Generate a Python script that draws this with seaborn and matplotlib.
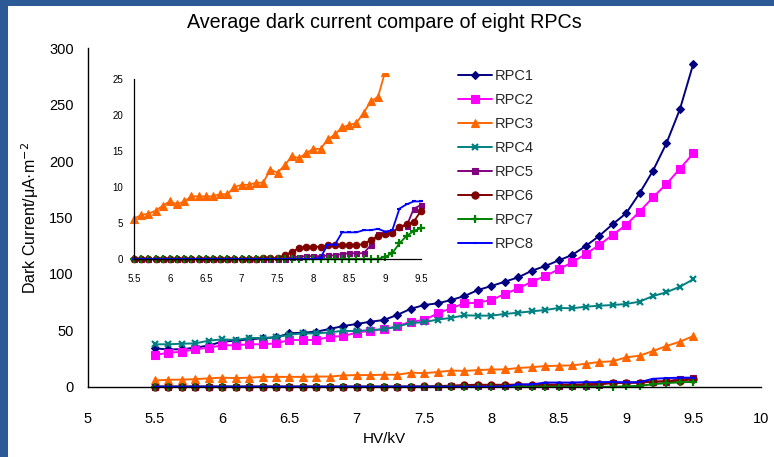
import matplotlib
matplotlib.use('Agg')
import matplotlib.pyplot as plt
import seaborn as sns
import pandas as pd
from matplotlib.patches import Rectangle

sns.set_theme(style='white')
plt.rcParams['font.family'] = ['Liberation Sans', 'DejaVu Sans']

# ---------------- data ----------------
hv = [5.5, 5.6, 5.7, 5.8, 5.9, 6.0, 6.1, 6.2, 6.3, 6.4,
      6.5, 6.6, 6.7, 6.8, 6.9, 7.0, 7.1, 7.2, 7.3, 7.4,
      7.5, 7.6, 7.7, 7.8, 7.9, 8.0, 8.1, 8.2, 8.3, 8.4,
      8.5, 8.6, 8.7, 8.8, 8.9, 9.0, 9.1, 9.2, 9.3, 9.4, 9.5]

rpc1 = [34.0, 33.0, 33.2, 34.6, 36.5, 39.9, 40.8, 42.0, 42.9, 43.8,
        47.3, 47.9, 48.8, 51.2, 53.8, 55.6, 57.6, 59.1, 63.6, 69.0,
        72.4, 73.9, 76.8, 80.4, 85.7, 89.3, 93.1, 97.0, 102.8, 107.0,
        112.0, 116.8, 124.7, 133.6, 144.0, 153.7, 171.4, 191.5, 215.8, 246.0, 286.5]

rpc2 = [28.1, 30.1, 31.0, 33.1, 34.6, 36.7, 36.7, 37.6, 37.6, 38.4,
        41.4, 41.4, 41.4, 44.3, 44.9, 48.0, 49.6, 51.0, 53.5, 57.8,
        59.0, 65.0, 69.5, 73.9, 74.5, 76.9, 82.2, 87.2, 93.1, 98.1,
        104.1, 110.3, 117.6, 125.6, 134.5, 143.4, 155.1, 167.9, 179.7, 193.3, 206.9]

rpc3 = [5.6, 6.1, 6.3, 6.7, 7.4, 8.0, 7.6, 8.0, 8.7, 8.7,
        8.7, 8.7, 9.0, 9.0, 10.0, 10.3, 10.3, 10.6, 10.6, 12.4,
        12.0, 13.0, 14.3, 14.0, 14.7, 15.3, 15.3, 16.6, 17.3, 18.3,
        18.6, 18.9, 20.3, 21.9, 22.5, 26.0, 27.5, 31.6, 36.1, 39.9, 44.9]

rpc4 = [37.6, 37.6, 38.1, 38.4, 40.8, 42.0, 41.4, 43.2, 43.2, 43.8,
        46.1, 47.3, 47.3, 48.2, 49.6, 49.2, 50.3, 50.9, 53.2, 56.5,
        57.2, 59.5, 61.0, 63.3, 63.0, 63.0, 64.5, 65.6, 66.8, 68.0,
        69.8, 69.5, 70.9, 71.8, 72.4, 73.3, 75.4, 80.4, 83.7, 88.7, 95.2]

rpc5 = [0.0, 0.0, 0.0, 0.0, 0.0, 0.0, 0.0, 0.0, 0.0, 0.0,
        0.0, 0.0, 0.0, 0.0, 0.0, 0.0, 0.0, 0.0, 0.0, 0.0,
        0.0, 0.0, 0.3, 0.3, 0.4, 0.4, 0.4, 0.5, 0.5, 0.7,
        0.8, 0.8, 0.8, 1.9, 3.5, 3.6, 3.7, 4.5, 4.6, 7.0, 7.5]

rpc6 = [0.0, 0.0, 0.0, 0.0, 0.0, 0.0, 0.0, 0.0, 0.0, 0.0,
        0.0, 0.0, 0.0, 0.0, 0.0, 0.0, 0.0, 0.0, 0.1, 0.1,
        0.2, 0.5, 1.0, 1.5, 1.7, 1.7, 1.7, 1.9, 1.9, 1.9,
        1.9, 1.9, 2.1, 2.6, 3.2, 3.5, 3.6, 4.5, 4.8, 5.2, 6.7]

rpc7 = [0.0, 0.0, 0.0, 0.0, 0.0, 0.0, 0.0, 0.0, 0.0, 0.0,
        0.0, 0.0, 0.0, 0.0, 0.0, 0.0, 0.0, 0.0, 0.0, 0.0,
        0.0, 0.0, 0.0, 0.0, 0.0, 0.0, 0.0, 0.0, 0.0, 0.0,
        0.0, 0.0, 0.0, 0.0, 0.0, 0.3, 0.8, 2.2, 3.2, 3.9, 4.3]

rpc8 = [0.0, 0.0, 0.0, 0.0, 0.0, 0.0, 0.0, 0.0, 0.0, 0.0,
        0.0, 0.0, 0.0, 0.0, 0.0, 0.0, 0.0, 0.0, 0.0, 0.0,
        0.0, 0.0, 0.0, 0.0, 0.0, 0.0, 0.2, 2.0, 2.0, 3.7,
        3.7, 3.7, 4.0, 4.0, 4.2, 3.8, 4.0, 7.0, 7.6, 8.0, 8.0]

names = ['RPC1', 'RPC2', 'RPC3', 'RPC4', 'RPC5', 'RPC6', 'RPC7', 'RPC8']
values = [rpc1, rpc2, rpc3, rpc4, rpc5, rpc6, rpc7, rpc8]

main_xticks = [5, 5.5, 6, 6.5, 7, 7.5, 8, 8.5, 9, 9.5, 10]
main_xticklabels = ['5', '5.5', '6', '6.5', '7', '7.5', '8', '8.5', '9', '9.5', '10']
main_yticks = [0, 50, 100, 150, 200, 250, 300]
inset_xticks = [5.5, 6, 6.5, 7, 7.5, 8, 8.5, 9, 9.5]
inset_xticklabels = ['5.5', '6', '6.5', '7', '7.5', '8', '8.5', '9', '9.5']
inset_yticks = [0, 5, 10, 15, 20, 25]

df = pd.DataFrame({
    'HV': hv * len(names),
    'Current': [v for vals in values for v in vals],
    'RPC': [n for n in names for _ in hv],
})

# ---------------- styles ----------------
styles = {
    'RPC1': dict(color='#000080', marker='D', ms=4.2, mew=0.8),
    'RPC2': dict(color='#FF00FF', marker='s', ms=5.8, mew=0.8),
    'RPC3': dict(color='#FF6600', marker='^', ms=6.2, mew=0.8),
    'RPC4': dict(color='#008080', marker='x', ms=5.0, mew=1.6),
    'RPC5': dict(color='#800080', marker='s', ms=4.0, mew=0.8),
    'RPC6': dict(color='#800000', marker='o', ms=5.2, mew=0.8),
    'RPC7': dict(color='#008000', marker='+', ms=6.0, mew=1.6),
    'RPC8': dict(color='#0000FF', marker='_', ms=3.0, mew=1.5),
}

W, H = 774, 457
fig = plt.figure(figsize=(W / 100, H / 100), dpi=100)
fig.patch.set_facecolor('#2c5a97')
fig.add_artist(Rectangle((8 / W, 0), 1, 1 - 6 / H, transform=fig.transFigure,
                         facecolor='white', edgecolor='none', zorder=-5))

# ---------------- main axes ----------------
x0, x1 = 87.5, 760.7
y0, y1 = 386.7, 48.3
ax = fig.add_axes([x0 / W, 1 - y0 / H, (x1 - x0) / W, (y0 - y1) / H])
ax.set_facecolor('none')

for name in names:
    st = styles[name]
    sub = df[df['RPC'] == name]
    sns.lineplot(data=sub, x='HV', y='Current', ax=ax, color=st['color'],
                 marker=st['marker'], markersize=st['ms'],
                 markeredgecolor=st['color'], markerfacecolor=st['color'],
                 markeredgewidth=st['mew'], linewidth=1.4, label=name,
                 clip_on=False, errorbar=None)

ax.set_xlim(5, 10)
ax.set_ylim(0, 300)
ax.set_xticks(main_xticks)
ax.set_xticklabels(main_xticklabels)
ax.set_yticks(main_yticks)
ax.set_xlabel('')
ax.set_ylabel('')
for s in ['top', 'right']:
    ax.spines[s].set_visible(False)
for s in ['left', 'bottom']:
    ax.spines[s].set_color('black')
    ax.spines[s].set_linewidth(1.0)
ax.tick_params(axis='both', direction='in', length=5, width=1, colors='black',
               labelsize=10.5)
ax.tick_params(axis='x', pad=18)
ax.tick_params(axis='y', pad=10)

handles, labels = ax.get_legend_handles_labels()
ax.legend(handles, labels, loc='upper left',
          bbox_to_anchor=(458 / W, 1 - 69 / H), bbox_transform=fig.transFigure,
          frameon=False, fontsize=10.5, handlelength=2.3, handletextpad=0.2,
          labelspacing=0.69, borderpad=0, borderaxespad=0)

# ---------------- inset axes ----------------
ppx = (421 - 134) / 4.0
ppy = (259 - 79) / 25.0
ix0, ix1 = 5.42, 9.58
iy0, iy1 = -0.5, 25.8
left_px = 134 - (5.5 - ix0) * ppx
right_px = 421 + (ix1 - 9.5) * ppx
bot_px = 259 + (0 - iy0) * ppy
top_px = 259 - iy1 * ppy
axi = fig.add_axes([left_px / W, 1 - bot_px / H, (right_px - left_px) / W,
                    (bot_px - top_px) / H])
axi.set_facecolor('none')

for name in names:
    st = styles[name]
    sub = df[df['RPC'] == name]
    sns.lineplot(data=sub, x='HV', y='Current', ax=axi, color=st['color'],
                 marker=st['marker'], markersize=st['ms'] * 0.9,
                 markeredgecolor=st['color'], markerfacecolor=st['color'],
                 markeredgewidth=st['mew'], linewidth=1.3, legend=False,
                 errorbar=None)

axi.set_xlim(ix0, ix1)
axi.set_ylim(iy0, iy1)
axi.set_xticks(inset_xticks)
axi.set_xticklabels(inset_xticklabels)
axi.set_yticks(inset_yticks)
axi.set_xlabel('')
axi.set_ylabel('')
for s in ['top', 'right']:
    axi.spines[s].set_visible(False)
axi.spines['left'].set_position(('data', 5.5))
axi.spines['left'].set_bounds(0, 25)
axi.spines['bottom'].set_position(('data', 0))
axi.spines['bottom'].set_bounds(5.5, 9.5)
for s in ['left', 'bottom']:
    axi.spines[s].set_color('black')
    axi.spines[s].set_linewidth(0.9)
axi.tick_params(axis='both', direction='out', length=3, width=0.9,
                colors='black', labelsize=7)
axi.tick_params(axis='x', pad=8)
axi.tick_params(axis='y', pad=5)

# ---------------- texts ----------------
fig.text(384 / W, 1 - 22 / H, 'Average dark current compare of eight RPCs',
         ha='center', va='center', fontsize=14.2, color='black')
fig.text(384 / W, 1 - 439 / H, 'HV/kV', ha='center', va='center',
         fontsize=11, color='black')
fig.text(30 / W, 1 - 218 / H, 'Dark Current/\u03bcA\u00b7m$^{-2}$', ha='center',
         va='center', rotation=90, fontsize=11.5, color='black')

fig.savefig('out.png', dpi=100, facecolor=fig.get_facecolor())
